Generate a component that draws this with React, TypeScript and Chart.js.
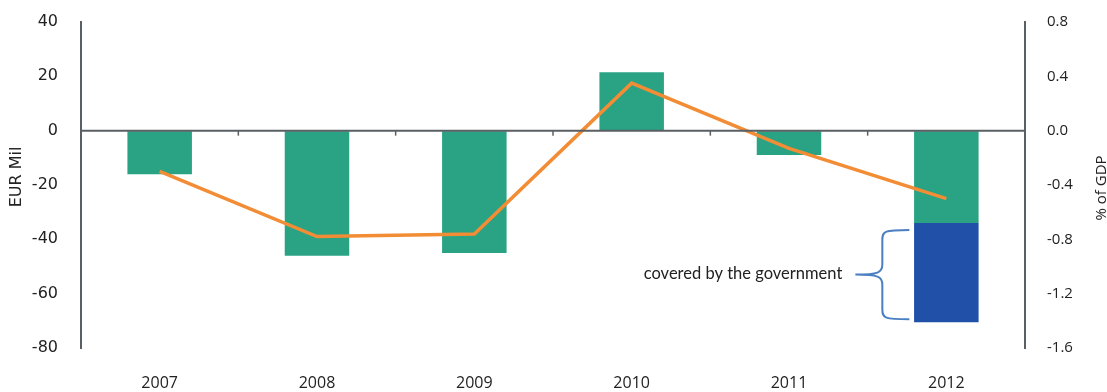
import React, { useEffect, useRef } from "react";
import { Chart, registerables } from "chart.js";

Chart.register(...registerables);

const years = ["2007", "2008", "2009", "2010", "2011", "2012"];
const balanceEurMil = [-16, -46, -45, 21.5, -9, -34];
const governmentCovered = [null, null, null, null, null, -36.5];
const balancePctGdp = [-0.3, -0.78, -0.76, 0.35, -0.13, -0.5];
const leftTicks = [40, 20, 0, -20, -40, -60, -80];
const rightTicks = [0.8, 0.4, 0.0, -0.4, -0.8, -1.2, -1.6];
const annotationText = "covered by the government";
const annotationIndex = 5;

const GREEN = "#29a383";
const BLUE = "#2150a8";
const ORANGE = "#f28c35";
const AXIS = "#5a5f63";

export default function App() {
  const ref = useRef<HTMLCanvasElement | null>(null);

  useEffect(() => {
    document.body.style.margin = "0";
    const canvas = ref.current;
    if (!canvas) return;

    const overlay = {
      id: "overlay",
      afterDatasetsDraw(chart: any) {
        const ctx = chart.ctx;
        const x = chart.scales.x;
        const y = chart.scales.y;
        const area = chart.chartArea;
        const y0 = y.getPixelForValue(0);
        ctx.save();
        // zero line
        ctx.strokeStyle = AXIS;
        ctx.lineWidth = 2;
        ctx.beginPath();
        ctx.moveTo(area.left, y0);
        ctx.lineTo(area.right, y0);
        ctx.stroke();
        // category boundary ticks
        ctx.lineWidth = 1.5;
        for (let i = 1; i < years.length; i++) {
          const bx = (x.getPixelForValue(i - 1) + x.getPixelForValue(i)) / 2;
          ctx.beginPath();
          ctx.moveTo(bx, y0);
          ctx.lineTo(bx, y0 + 5);
          ctx.stroke();
        }
        // brace annotation
        const barTop = y.getPixelForValue(balanceEurMil[annotationIndex]);
        const barBot = y.getPixelForValue(
          balanceEurMil[annotationIndex] + (governmentCovered[annotationIndex] as number)
        );
        const cx = x.getPixelForValue(annotationIndex);
        const top = barTop + 7;
        const bot = barBot - 3;
        const vx = cx - 64;
        const endX = cx - 37;
        const tipX = cx - 91;
        const mid = (top + bot) / 2;
        ctx.strokeStyle = "#4a7fc1";
        ctx.lineWidth = 2;
        ctx.beginPath();
        ctx.moveTo(endX, top);
        ctx.bezierCurveTo(vx + 2, top, vx, top + 1, vx, top + 10);
        ctx.lineTo(vx, mid - 10);
        ctx.bezierCurveTo(vx, mid - 2, vx - 4, mid, tipX, mid);
        ctx.moveTo(tipX, mid);
        ctx.bezierCurveTo(vx - 4, mid, vx, mid + 2, vx, mid + 10);
        ctx.lineTo(vx, bot - 10);
        ctx.bezierCurveTo(vx, bot - 1, vx + 2, bot, endX, bot);
        ctx.stroke();
        ctx.fillStyle = "#222";
        ctx.font = "16.5px Lato";
        ctx.textAlign = "right";
        ctx.textBaseline = "middle";
        ctx.fillText(annotationText, cx - 104, mid - 1);
        // left axis title
        ctx.save();
        ctx.translate(17, 177);
        ctx.rotate(-Math.PI / 2);
        ctx.textAlign = "center";
        ctx.font = "16px 'DejaVu Sans'";
        ctx.fillText("EUR Mil", 0, 0);
        ctx.restore();
        // right axis title (bottom-to-top, clipped at edge)
        ctx.translate(1102, 188);
        ctx.rotate(-Math.PI / 2);
        ctx.textAlign = "center";
        ctx.font = "15px 'Open Sans'";
        ctx.fillStyle = "#222";
        ctx.fillText("% of GDP", 0, 0);
        ctx.restore();
      },
    };

    const chart = new Chart(canvas, {
      type: "bar",
      data: {
        labels: years,
        datasets: [
          {
            type: "line",
            label: "% of GDP",
            data: balancePctGdp,
            yAxisID: "y1",
            borderColor: ORANGE,
            borderWidth: 3.5,
            pointRadius: 0,
            tension: 0,
            order: 0,
          } as any,
          {
            label: "EUR Mil",
            data: balanceEurMil,
            backgroundColor: GREEN,
            yAxisID: "y",
            stack: "s",
            order: 1,
            barPercentage: 0.41,
            categoryPercentage: 1,
          },
          {
            label: "covered by the government",
            data: governmentCovered,
            backgroundColor: BLUE,
            yAxisID: "y",
            stack: "s",
            order: 2,
            barPercentage: 0.41,
            categoryPercentage: 1,
          },
        ],
      },
      options: {
        responsive: false,
        animation: false,
        layout: { padding: { top: 22, left: 0, right: 0, bottom: 0 } },
        plugins: { legend: { display: false }, tooltip: { enabled: false } },
        scales: {
          x: {
            stacked: true,
            grid: { display: false, drawTicks: false },
            border: { display: false },
            ticks: {
              padding: 26,
              color: "#222",
              font: { family: "'Open Sans'", size: 16 },
            },
            afterFit(s: any) {
              s.height = 392 - 348;
              s.paddingLeft = 0;
              s.paddingRight = 0;
            },
          },
          y: {
            stacked: true,
            position: "left",
            min: -80,
            max: 40,
            afterBuildTicks(s: any) {
              s.ticks = leftTicks.map((v) => ({ value: v }));
            },
            grid: { drawOnChartArea: false, drawTicks: false },
            border: { display: true, color: AXIS, width: 2 },
            ticks: {
              padding: 23,
              color: "#222",
              font: { family: "'DejaVu Sans'", size: 16 },
            },
            afterFit(s: any) {
              s.width = 81;
              s.paddingTop = 0;
              s.paddingBottom = 0;
            },
          },
          y1: {
            position: "right",
            min: -1.6,
            max: 0.8,
            afterBuildTicks(s: any) {
              s.ticks = rightTicks.map((v) => ({ value: v }));
            },
            grid: { drawOnChartArea: false, drawTicks: false },
            border: { display: true, color: AXIS, width: 2 },
            ticks: {
              padding: 22,
              color: "#222",
              font: { family: "'Open Sans'", size: 15 },
              callback: (v: any) => Number(v).toFixed(1),
            },
            afterFit(s: any) {
              s.width = 1107 - 1025;
              s.paddingTop = 0;
              s.paddingBottom = 0;
            },
          },
        },
      },
      plugins: [overlay],
    });
    return () => chart.destroy();
  }, []);

  return (
    <div style={{ position: "absolute", left: 0, top: 0, width: 1107, height: 392 }}>
      <canvas ref={ref} width={1107} height={392} style={{ display: "block" }} />
    </div>
  );
}
